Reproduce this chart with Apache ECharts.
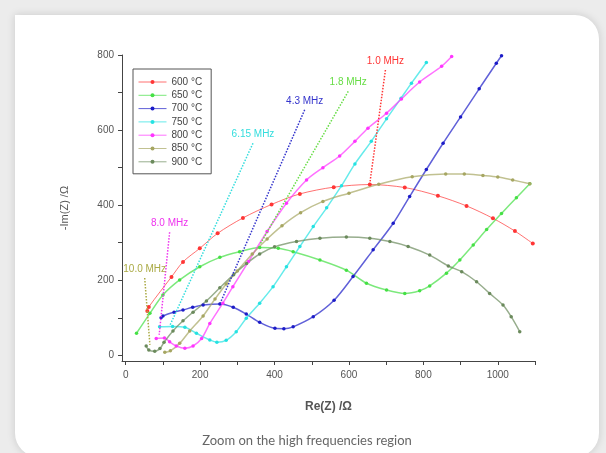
<!DOCTYPE html>
<html>
<head>
<meta charset="utf-8">
<script src="https://cdn.jsdelivr.net/npm/echarts@6.0.0/dist/echarts.min.js"></script>
<style>
html, body { margin: 0; padding: 0; width: 606px; height: 453px; overflow: hidden; background: #ececec; }
.card { position: absolute; left: 15px; top: 15px; width: 584px; height: 442px; background: #fff;
        border-radius: 0 24px 24px 24px; box-shadow: 0 0 8px rgba(0,0,0,0.15); }
#chart { position: absolute; left: 0; top: 0; width: 606px; height: 453px; }
.caption { position: absolute; left: 15px; width: 584px; top: 432px; text-align: center;
           font-family: Lato, sans-serif; font-size: 13px; color: #666; }
</style>
</head>
<body>
<div class="card"></div>
<div id="chart"></div>
<div class="caption">Zoom on the high frequencies region</div>
<script>
// axis ticks / labels
const xTicks = [0, 100, 200, 300, 400, 500, 600, 700, 800, 900, 1000, 1100]
const xLabels = [0, 200, 400, 600, 800, 1000]
const yTicks = [0, 100, 200, 300, 400, 500, 600, 700, 800]
const yLabels = [0, 200, 400, 600, 800]

const temps = ['600 °C', '650 °C', '700 °C', '750 °C', '800 °C', '850 °C', '900 °C']

// [Re(Z), -Im(Z)]
const t600 = [[58, 118], [62, 129], [123, 209], [154, 249], [199, 285], [247, 325], [315, 366], [392, 402],
  [468, 430], [559, 448], [656, 455], [750, 447], [839, 425], [916, 398], [987, 365], [1046, 331], [1094, 298]]
const t650 = [[29, 59], [65, 112], [100, 161], [145, 201], [199, 236], [253, 261], [306, 276], [360, 287],
  [410, 285], [450, 276], [522, 254], [593, 227], [647, 192], [701, 174], [750, 165], [790, 172], [817, 185],
  [862, 219], [898, 254], [934, 294], [970, 335], [1010, 378], [1050, 420], [1086, 457]]
const t700 = [[95, 100], [100, 105], [130, 115], [154, 121], [180, 128], [208, 134], [253, 137], [289, 128],
  [324, 110], [360, 88], [401, 72], [425, 71], [450, 76], [504, 103], [560, 147], [611, 210], [665, 281],
  [719, 352], [763, 423], [808, 495], [853, 565], [900, 635], [950, 710], [996, 778], [1010, 798]]
const t750 = [[91, 76], [126, 77], [159, 75], [190, 59], [226, 41], [245, 35], [270, 40], [297, 63], [324, 99],
  [360, 139], [396, 183], [432, 236], [468, 290], [504, 343], [540, 393], [580, 452], [616, 510], [660, 570],
  [701, 630], [740, 685], [768, 725], [808, 780]]
const t800 = [[82, 45], [104, 46], [118, 36], [136, 25], [159, 19], [181, 25], [204, 45], [226, 85], [261, 139],
  [288, 183], [330, 250], [380, 330], [432, 405], [486, 467], [530, 500], [575, 531], [616, 570], [651, 605],
  [701, 645], [741, 683], [790, 728], [849, 770], [876, 796]]
const t850 = [[105, 8], [120, 12], [145, 32], [172, 65], [208, 105], [240, 150], [270, 190], [300, 225],
  [340, 270], [380, 310], [420, 345], [470, 380], [530, 410], [600, 432], [680, 456], [770, 476], [860, 483],
  [910, 483], [960, 479], [1000, 475], [1040, 467], [1086, 457]]
const t900 = [[55, 25], [62, 14], [78, 11], [92, 18], [103, 35], [127, 65], [154, 92], [181, 115], [217, 145],
  [253, 180], [290, 215], [325, 245], [360, 270], [400, 289], [459, 303], [522, 312], [593, 315], [656, 312],
  [710, 303], [759, 290], [817, 267], [867, 238], [903, 223], [943, 196], [978, 165], [1014, 134], [1036, 103],
  [1059, 63]]

// frequency annotations: label, start of pointer, end of pointer
const freqText = ['1.0 MHz', '1.8 MHz', '4.3 MHz', '6.15 MHz', '8.0 MHz', '10.0 MHz']
const freqFrom = [[698, 760], [598, 703], [481, 654], [342, 565], [118, 328], [51, 206]]
const freqTo = [[656, 458], [360, 294], [253, 137], [118, 78], [90, 55], [65, 28]]

const myEcharts = echarts.init(document.getElementById('chart'))

const seriesData = [t600, t650, t700, t750, t800, t850, t900]
const colors = ['#ff3535', '#45e045', '#1c1cc8', '#25e2e2', '#ff35ff', '#a6a662', '#6b8a5c']
const freqColors = ['#ff3535', '#66dd44', '#3434cc', '#33dddd', '#ee33ee', '#aaaa44']

const series = []
seriesData.forEach((d, i) => {
  series.push({
    name: temps[i],
    type: 'line',
    data: d,
    smooth: 0.3,
    symbol: 'circle',
    symbolSize: i === 0 ? 4 : 3.5,
    itemStyle: { color: colors[i] },
    //折线颜色设置
    lineStyle: { color: colors[i], width: i === 0 ? 1 : 1.5, opacity: 0.7 },
    z: 3
  })
})
freqText.forEach((t, i) => {
  series.push({
    type: 'line',
    data: [
      { value: freqFrom[i], label: { show: true, formatter: t } },
      freqTo[i]
    ],
    symbol: 'circle',
    symbolSize: 0,
    lineStyle: { color: freqColors[i], type: 'dotted', width: 1.5 },
    label: { position: 'top', distance: 4, color: freqColors[i], fontSize: 10, fontFamily: 'Liberation Sans' },
    z: 4,
    silent: true
  })
})

const axisFont = { fontSize: 10, color: '#555', fontFamily: 'Liberation Sans', formatter: v => String(v) }

myEcharts.setOption({
  animation: false,
  grid: { left: 122, right: 71, top: 55, bottom: 92, containLabel: false, outerBoundsMode: 'none' },
  xAxis: {
    type: 'value', min: -10, max: 1100,
    name: 'Re(Z) /Ω', nameLocation: 'middle', nameGap: 40,
    nameTextStyle: { fontSize: 12, fontWeight: 'bold', color: '#555', fontFamily: 'Liberation Sans' },
    axisLine: { onZero: false, lineStyle: { color: '#444' } },
    axisTick: { customValues: xTicks, length: 4, lineStyle: { color: '#444' } },
    axisLabel: Object.assign({ customValues: xLabels, margin: 9 }, axisFont),
    splitLine: { show: false }
  },
  yAxis: {
    type: 'value', min: -15, max: 800,
    name: '-Im(Z) /Ω', nameLocation: 'middle', nameGap: 52,
    nameTextStyle: { fontSize: 11, color: '#555', fontFamily: 'Liberation Sans' },
    axisLine: { onZero: false, lineStyle: { color: '#444' } },
    axisTick: { customValues: yTicks, length: 4, lineStyle: { color: '#444' } },
    axisLabel: Object.assign({ customValues: yLabels, margin: 8 }, axisFont),
    splitLine: { show: false }
  },
  legend: {
    data: temps, orient: 'vertical', left: 133, top: 69,
    itemWidth: 28, itemHeight: 5, itemGap: 3.3, padding: [8, 9, 7, 5],
    borderColor: '#555', borderWidth: 1, backgroundColor: '#fff',
    lineStyle: { width: 1 },
    textStyle: { fontSize: 10, color: '#444', lineHeight: 10, fontFamily: 'Liberation Sans' }
  },
  series: series
})
</script>
</body>
</html>
